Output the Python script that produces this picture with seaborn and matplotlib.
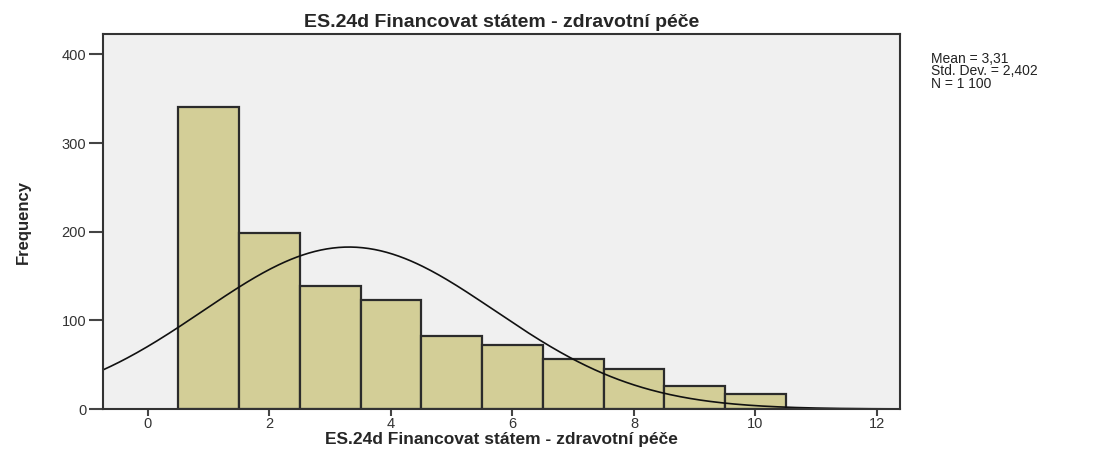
import numpy as np
import pandas as pd
import matplotlib
matplotlib.use('Agg')
import matplotlib.pyplot as plt
import seaborn as sns

# hodnoty a četnosti
values = [1, 2, 3, 4, 5, 6, 7, 8, 9, 10]
counts = [341, 199, 139, 123, 82, 72, 56, 45, 26, 17]
mean_val = 3.31
std_val = 2.402
n_total = 1100

title = "ES.24d Financovat státem - zdravotní péče"
stats_text = "Mean = 3,31\nStd. Dev. = 2,402\nN = 1 100"

sns.set_style("ticks")
plt.rcParams['font.family'] = ['Liberation Sans', 'DejaVu Sans']

df = pd.DataFrame({"value": values, "count": counts})

fig = plt.figure(figsize=(10.99, 4.5), dpi=100)
ax = fig.add_axes([0.0937, 0.0911, 0.7253, 0.8333])
ax.set_facecolor('#f0f0f0')

sns.histplot(data=df, x="value", weights="count", discrete=True,
             color='#d3ce97', alpha=1, edgecolor='#2b2b2b', linewidth=1.6, ax=ax)

# normální křivka
xs = np.linspace(-0.74, 12.38, 400)
ys = n_total * np.exp(-0.5 * ((xs - mean_val) / std_val) ** 2) / (std_val * np.sqrt(2 * np.pi))
sns.lineplot(x=xs, y=ys, color='#111111', linewidth=1.2, ax=ax)

ax.set_xlim(-0.74, 12.38)
ax.set_ylim(0, 423)
ax.set_xticks([0, 2, 4, 6, 8, 10, 12])
ax.set_yticks([0, 100, 200, 300, 400])
ax.tick_params(axis='both', width=1.5, color='#444444', labelsize=10.5, labelcolor='#333333')
ax.tick_params(axis='y', length=10, pad=2)
ax.tick_params(axis='x', length=5, pad=1)
for s in ax.spines.values():
    s.set_linewidth(1.5)
    s.set_color('#333333')

ax.set_title(title, fontsize=14, fontweight='bold', pad=5)
ax.set_xlabel(title, fontsize=12.5, fontweight='bold')
ax.xaxis.set_label_coords(0.5, -0.062)
ax.set_ylabel("Frequency", fontsize=12, fontweight='bold',
              family=['Liberation Sans Narrow', 'Liberation Sans'], labelpad=22)

fig.text(0.847, 0.885, stats_text, fontsize=10, va='top', ha='left',
         linespacing=0.88, color='#222222')

fig.savefig('out.png', dpi=100)
